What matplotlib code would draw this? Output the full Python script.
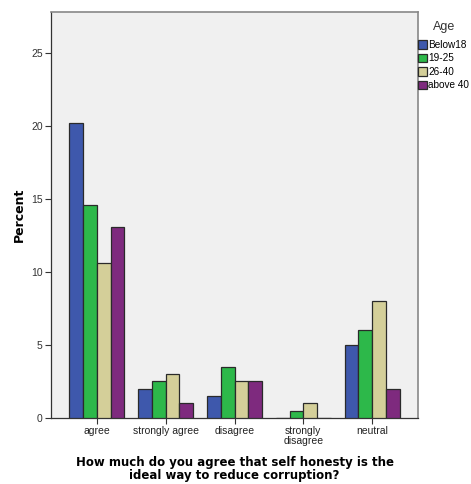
import numpy as np
import matplotlib
matplotlib.use('Agg')
import matplotlib.pyplot as plt

# --- data ---
categories = ['agree', 'strongly agree', 'disagree', 'strongly\ndisagree', 'neutral']
age_groups = ['Below18', '19-25', '26-40', 'above 40']
below18 = [20.2, 2.0, 1.5, 0.0, 5.0]
age19_25 = [14.6, 2.5, 3.5, 0.5, 6.0]
age26_40 = [10.6, 3.0, 2.5, 1.0, 8.0]
above40 = [13.1, 1.0, 2.5, 0.0, 2.0]
yticks = [0, 5, 10, 15, 20, 25]

series = [below18, age19_25, age26_40, above40]
colors = ['#3E58AC', '#2DB84A', '#D4CF99', '#7E2A7E']

fig = plt.figure(figsize=(4.71, 4.84), dpi=100)
ax = fig.add_axes([51 / 471, 66 / 484, 367 / 471, 406 / 484])
ax.set_facecolor('#F0F0F0')

x = np.arange(len(categories))
w = 0.2
for i, (vals, c, lab) in enumerate(zip(series, colors, age_groups)):
    ax.bar(x + (i - 1.5) * w, vals, width=w, color=c, edgecolor='#2a2a2a',
           linewidth=0.9, label=lab, zorder=3)

ax.set_xlim(-0.667, 4.667)
ax.set_ylim(0, 27.8)
ax.set_yticks(yticks)
ax.set_xticks(x)
ax.set_xticklabels(categories, family='Liberation Sans', fontsize=7.5, color='#222222',
                   linespacing=1.0)
for t in ax.get_yticklabels():
    t.set_family('Liberation Sans')
    t.set_fontsize(7.5)
    t.set_color('#333333')
ax.tick_params(axis='both', direction='out', length=4, width=0.8, color='#333333', pad=2)

for side in ['left', 'bottom']:
    ax.spines[side].set_color('#333333')
    ax.spines[side].set_linewidth(0.9)
for side in ['top', 'right']:
    ax.spines[side].set_color('#888888')
    ax.spines[side].set_linewidth(1.2)

ax.set_ylabel('Percent', fontsize=9, fontweight='bold', labelpad=4)
ax.set_xlabel('How much do you agree that self honesty is the\nideal way to reduce corruption?',
              fontsize=8.5, fontweight='bold', linespacing=0.95, labelpad=7)

leg = fig.legend(loc='upper left', bbox_to_anchor=(418 / 471, 1 - 21 / 484),
                 title='Age', frameon=False,
                 handlelength=0.85, handleheight=0.9, handletextpad=0.2,
                 labelspacing=0.35, borderaxespad=0, borderpad=0.0,
                 prop={'family': 'Liberation Sans', 'size': 7.2})
leg.get_title().set_family('Liberation Sans')
leg.get_title().set_fontsize(9)
leg.get_title().set_color('#333333')
leg._legend_box.sep = 5

fig.savefig('out.png', dpi=100, facecolor='white')
